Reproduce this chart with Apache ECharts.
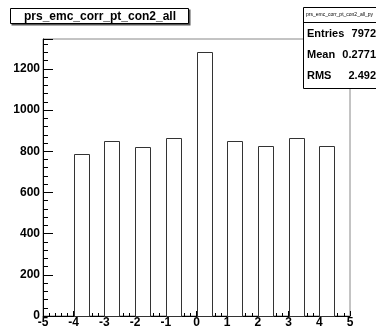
<!DOCTYPE html>
<html>
<head>
<meta charset="utf-8">
<script src="https://cdn.jsdelivr.net/npm/echarts@6/dist/echarts.min.js"></script>
<style>
  html, body { margin: 0; padding: 0; background: #fff; }
  #chart { width: 376px; height: 329px; }
</style>
</head>
<body>
<div id="chart"></div>
<script>
// histogram bins (width 0.5), only the filled ones
const binStarts = [-4, -3, -2, -1, 0, 1, 2, 3, 4]
const binWidth = 0.5
const counts = [788, 850, 823, 863, 1281, 850, 827, 863, 827]
const titleText = 'prs_emc_corr_pt_con2_all'
const statsName = 'prs_emc_corr_pt_con2_all_py'
const statsLabels = ['Entries', 'Mean', 'RMS']
const statsValues = ['7972', '0.2771', '2.492']

const font = '"Liberation Sans", Arial, Helvetica, sans-serif'
const chart = echarts.init(document.getElementById('chart'))

const histData = binStarts.map((s, i) => [s, s + binWidth, counts[i]])

const option = {
  animation: false,
  grid: {
    left: 43, right: 26, top: 39, bottom: 13,
    show: true,
    borderColor: '#888',
    borderWidth: 1,
    backgroundColor: 'transparent'
  },
  xAxis: {
    type: 'value',
    min: -5,
    max: 5,
    interval: 1,
    axisLine: { show: true, onZero: false, lineStyle: { color: '#000', width: 1 } },
    axisTick: { show: true, inside: true, length: 5, lineStyle: { color: '#000' } },
    minorTick: { show: true, splitNumber: 5, length: 3, lineStyle: { color: '#000' } },
    splitLine: { show: false },
    axisLabel: {
      color: '#000', fontFamily: font, fontWeight: 'bold', fontSize: 12, margin: 1
    }
  },
  yAxis: {
    type: 'value',
    min: 0,
    max: 1345,
    interval: 200,
    axisLine: { show: true, onZero: false, lineStyle: { color: '#000', width: 1 } },
    axisTick: { show: true, inside: true, length: 10, lineStyle: { color: '#000' } },
    minorTick: { show: true, splitNumber: 5, length: 5, lineStyle: { color: '#000' } },
    splitLine: { show: false },
    axisLabel: {
      color: '#000', fontFamily: font, fontWeight: 'bold', fontSize: 12, margin: 3,
      formatter: v => (v % 200 === 0 ? String(v) : '')
    }
  },
  series: [
    {
      type: 'custom',
      data: histData,
      renderItem: function (params, api) {
        const p0 = api.coord([api.value(0), api.value(2)])
        const p1 = api.coord([api.value(1), 0])
        return {
          type: 'rect',
          shape: {
            x: Math.round(p0[0]) + 0.5,
            y: Math.round(p0[1]) + 0.5,
            width: Math.round(p1[0] - p0[0]),
            height: Math.round(p1[1] - p0[1])
          },
          style: { fill: '#fff', stroke: '#333', lineWidth: 1 }
        }
      },
      z: 1
    }
  ],
  graphic: [
    // title box
    { type: 'rect', shape: { x: 11.5, y: 9.5, width: 179, height: 16 }, style: { fill: '#555' }, z: 10 },
    { type: 'rect', shape: { x: 10.5, y: 8.5, width: 178, height: 15 }, style: { fill: '#fff', stroke: '#000', lineWidth: 1 }, z: 11 },
    {
      type: 'text', x: 100, y: 16.5, z: 12,
      style: { text: titleText, fill: '#000', font: 'bold 12px ' + font, align: 'center', verticalAlign: 'middle' }
    },
    // stats box
    { type: 'rect', shape: { x: 303.5, y: 7.5, width: 80, height: 81 }, style: { fill: '#fff', stroke: '#000', lineWidth: 1 }, z: 10 },
    { type: 'line', shape: { x1: 303, y1: 22.5, x2: 376, y2: 22.5 }, style: { stroke: '#000', lineWidth: 1 }, z: 11 },
    {
      type: 'text', x: 306, y: 15, z: 12,
      style: { text: statsName, fill: '#000', font: '5px ' + font, align: 'left', verticalAlign: 'middle' }
    },
    ...statsLabels.map((t, i) => ({
      type: 'text', x: 307, y: 34 + i * 21, z: 12,
      style: { text: t, fill: '#000', font: 'bold 11px ' + font, align: 'left', verticalAlign: 'middle' }
    })),
    ...statsValues.map((t, i) => ({
      type: 'text', x: 376, y: 34 + i * 21, z: 12,
      style: { text: t, fill: '#000', font: 'bold 11px ' + font, align: 'right', verticalAlign: 'middle' }
    }))
  ]
}

chart.setOption(option)
</script>
</body>
</html>
